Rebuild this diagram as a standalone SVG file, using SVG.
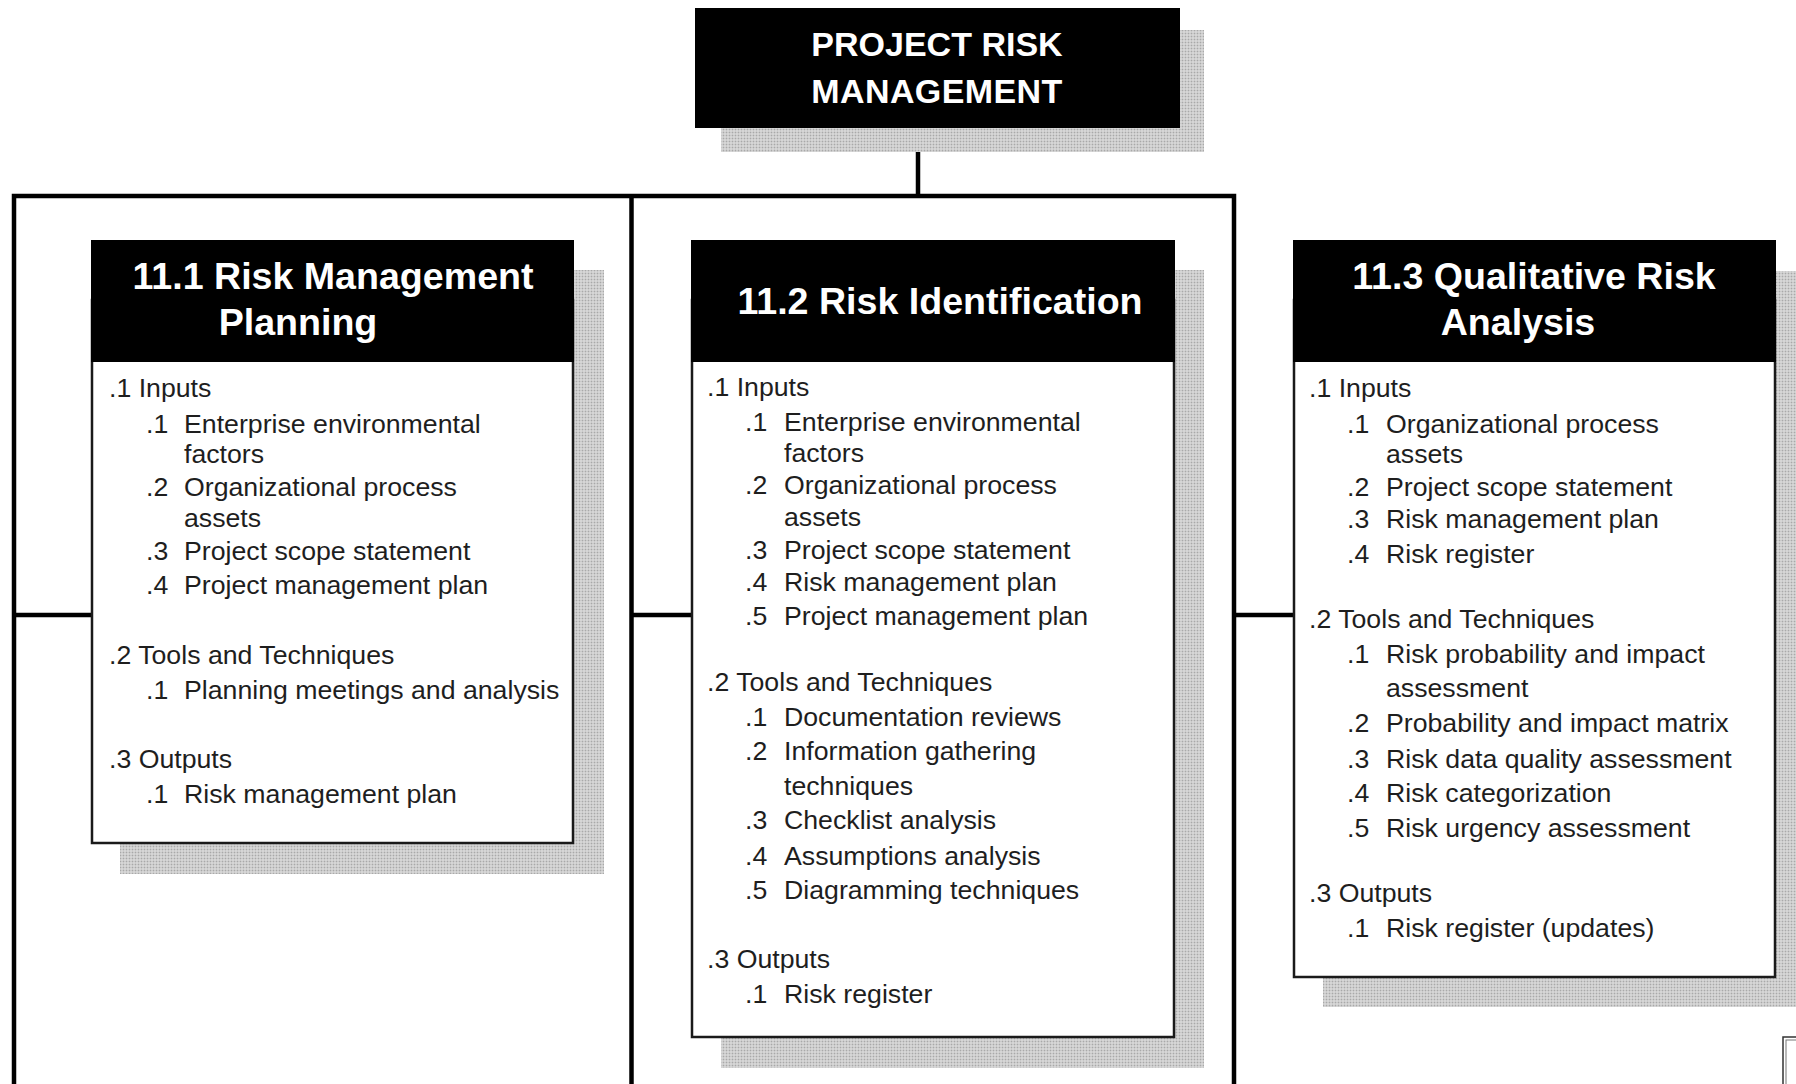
<svg xmlns="http://www.w3.org/2000/svg" width="1796" height="1084" viewBox="0 0 1796 1084">
  <defs>
    <pattern id="dots" width="3" height="3" patternUnits="userSpaceOnUse">
      <rect width="3" height="3" fill="#c9c9c9"/>
      <rect x="0" y="0" width="1" height="1" fill="#a9a9a9"/>
      <rect x="1" y="1" width="2" height="2" fill="#d6d6d6"/>
    </pattern>
  </defs>
  <style>
    .shadow { fill: url(#dots); }
    .head { fill: #000; }
    .body { fill: #fff; stroke: #1a1a1a; stroke-width: 2.5; }
    .conn { stroke: #000; stroke-width: 4.5; fill: none; }
    .ht { font-family: "Liberation Sans", Arial, sans-serif; font-weight: bold; fill: #fff; text-anchor: middle; }
    .t { font-family: "Liberation Sans", Arial, sans-serif; font-size: 26.7px; fill: #1e1e1e; }
  </style>
  <rect width="1796" height="1084" fill="#fff"/>

  <g id="connectors">
    <line class="conn" x1="918" y1="127" x2="918" y2="196"/>
    <polyline class="conn" points="14,1084 14,196 1234,196 1234,1084"/>
    <line class="conn" x1="631.5" y1="196" x2="631.5" y2="1084"/>
    <line class="conn" x1="14" y1="615" x2="92" y2="615"/>
    <line class="conn" x1="631.5" y1="615" x2="692" y2="615"/>
    <line class="conn" x1="1234" y1="615" x2="1294" y2="615"/>
  </g>

  <g id="root">
    <rect class="shadow" x="721" y="30" width="483" height="122"/>
    <rect class="head" x="695" y="8" width="485" height="120"/>
    <text class="ht" font-size="34" x="937" y="56">PROJECT RISK</text>
    <text class="ht" font-size="34" x="937" y="103" letter-spacing="0.4">MANAGEMENT</text>
  </g>

  <g id="n11-1">
    <rect class="shadow" x="120" y="270" width="484" height="604"/>
    <rect class="body" x="92" y="300" width="481" height="543"/>
    <rect class="head" x="91" y="240" width="483" height="122"/>
    <text class="ht" font-size="37.6" x="333" y="289">11.1 Risk Management</text>
    <text class="ht" font-size="37.6" x="298" y="335">Planning</text>
    <text class="t" x="109" y="397">.1 Inputs</text>
    <text class="t" x="146" y="433">.1</text><text class="t" x="184" y="433">Enterprise environmental</text>
    <text class="t" x="184" y="463">factors</text>
    <text class="t" x="146" y="496">.2</text><text class="t" x="184" y="496">Organizational process</text>
    <text class="t" x="184" y="527">assets</text>
    <text class="t" x="146" y="560">.3</text><text class="t" x="184" y="560">Project scope statement</text>
    <text class="t" x="146" y="594">.4</text><text class="t" x="184" y="594">Project management plan</text>
    <text class="t" x="109" y="664">.2 Tools and Techniques</text>
    <text class="t" x="146" y="699">.1</text><text class="t" x="184" y="699">Planning meetings and analysis</text>
    <text class="t" x="109" y="768">.3 Outputs</text>
    <text class="t" x="146" y="803">.1</text><text class="t" x="184" y="803">Risk management plan</text>
  </g>

  <g id="n11-2">
    <rect class="shadow" x="721" y="270" width="483" height="798"/>
    <rect class="body" x="692" y="300" width="482" height="737"/>
    <rect class="head" x="691" y="240" width="484" height="122"/>
    <text class="ht" font-size="37.6" x="940" y="314">11.2 Risk Identification</text>
    <text class="t" x="707" y="396">.1 Inputs</text>
    <text class="t" x="745" y="431">.1</text><text class="t" x="784" y="431">Enterprise environmental</text>
    <text class="t" x="784" y="462">factors</text>
    <text class="t" x="745" y="494">.2</text><text class="t" x="784" y="494">Organizational process</text>
    <text class="t" x="784" y="526">assets</text>
    <text class="t" x="745" y="559">.3</text><text class="t" x="784" y="559">Project scope statement</text>
    <text class="t" x="745" y="591">.4</text><text class="t" x="784" y="591">Risk management plan</text>
    <text class="t" x="745" y="625">.5</text><text class="t" x="784" y="625">Project management plan</text>
    <text class="t" x="707" y="691">.2 Tools and Techniques</text>
    <text class="t" x="745" y="726">.1</text><text class="t" x="784" y="726">Documentation reviews</text>
    <text class="t" x="745" y="760">.2</text><text class="t" x="784" y="760">Information gathering</text>
    <text class="t" x="784" y="795">techniques</text>
    <text class="t" x="745" y="829">.3</text><text class="t" x="784" y="829">Checklist analysis</text>
    <text class="t" x="745" y="865">.4</text><text class="t" x="784" y="865">Assumptions analysis</text>
    <text class="t" x="745" y="899">.5</text><text class="t" x="784" y="899">Diagramming techniques</text>
    <text class="t" x="707" y="968">.3 Outputs</text>
    <text class="t" x="745" y="1003">.1</text><text class="t" x="784" y="1003">Risk register</text>
  </g>

  <g id="n11-3">
    <rect class="shadow" x="1323" y="271" width="473" height="736"/>
    <rect class="body" x="1294" y="300" width="481" height="677"/>
    <rect class="head" x="1293" y="240" width="483" height="122"/>
    <text class="ht" font-size="37.6" x="1534" y="289">11.3 Qualitative Risk</text>
    <text class="ht" font-size="37.6" x="1518" y="335">Analysis</text>
    <text class="t" x="1309" y="397">.1 Inputs</text>
    <text class="t" x="1347" y="433">.1</text><text class="t" x="1386" y="433">Organizational process</text>
    <text class="t" x="1386" y="463">assets</text>
    <text class="t" x="1347" y="496">.2</text><text class="t" x="1386" y="496">Project scope statement</text>
    <text class="t" x="1347" y="528">.3</text><text class="t" x="1386" y="528">Risk management plan</text>
    <text class="t" x="1347" y="563">.4</text><text class="t" x="1386" y="563">Risk register</text>
    <text class="t" x="1309" y="628">.2 Tools and Techniques</text>
    <text class="t" x="1347" y="663">.1</text><text class="t" x="1386" y="663">Risk probability and impact</text>
    <text class="t" x="1386" y="697">assessment</text>
    <text class="t" x="1347" y="732">.2</text><text class="t" x="1386" y="732">Probability and impact matrix</text>
    <text class="t" x="1347" y="768">.3</text><text class="t" x="1386" y="768">Risk data quality assessment</text>
    <text class="t" x="1347" y="802">.4</text><text class="t" x="1386" y="802">Risk categorization</text>
    <text class="t" x="1347" y="837">.5</text><text class="t" x="1386" y="837">Risk urgency assessment</text>
    <text class="t" x="1309" y="902">.3 Outputs</text>
    <text class="t" x="1347" y="937">.1</text><text class="t" x="1386" y="937">Risk register (updates)</text>
  </g>

  <g id="corner-mark">
    <rect x="1783" y="1037" width="20" height="60" fill="none" stroke="#333" stroke-width="1.5"/>
    <rect x="1786" y="1040" width="20" height="60" fill="none" stroke="#777" stroke-width="1"/>
  </g>
</svg>
